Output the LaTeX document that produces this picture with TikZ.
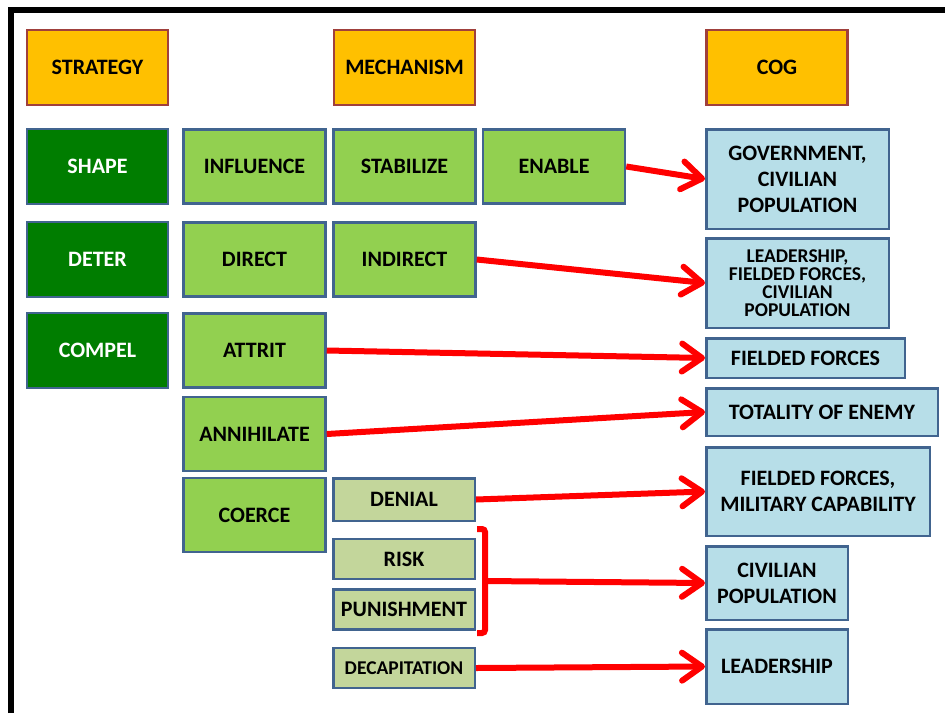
\documentclass[tikz,border=0pt]{standalone}
\usepackage{fontspec}
\setsansfont{Carlito}
\usetikzlibrary{arrows.meta}
\definecolor{headfill}{HTML}{FFC000}
\definecolor{headline}{HTML}{A0403C}
\definecolor{darkgreen}{HTML}{007D00}
\definecolor{litegreen}{HTML}{92D050}
\definecolor{palegreen}{HTML}{C3D69B}
\definecolor{cogblue}{HTML}{B7DEE8}
\definecolor{boxline}{HTML}{41648F}
\begin{document}
\begin{tikzpicture}[x=1pt, y=-1pt, font=\sffamily\bfseries\fontsize{22}{26}\selectfont,
	box/.style={draw=boxline, line width=2.5pt, align=center, inner sep=2pt},
	head/.style={box, draw=headline, fill=headfill, minimum width=141pt, minimum height=75pt},
	strat/.style={box, fill=darkgreen, text=white, minimum width=141pt, minimum height=75pt},
	way/.style={box, fill=litegreen, minimum width=142pt, minimum height=74pt},
	mech/.style={box, fill=palegreen, minimum width=141.5pt, minimum height=40pt},
	cog/.style={box, fill=cogblue},
	small/.style={font=\sffamily\bfseries\fontsize{19.5}{17.8}\selectfont},
	arr/.style={red, line width=6pt, -{Straight Barb[length=20pt, width=28pt, round]}}]
	\useasboundingbox (0,0) rectangle (945,713);
	%frame
	\draw[line width=6pt] (11,713) -- (11,10) -- (945,10);
	%headers
	\node[head] (strategy) at (97.5,67.5) {STRATEGY};
	\node[head] (mechanism) at (404.5,67.5) {MECHANISM};
	\node[head] (cog) at (777,67.5) {COG};
	%strategies
	\foreach \name/\y/\txt in {shape/166.5/SHAPE, deter/259.5/DETER, compel/350.5/COMPEL}
	\node[strat] (\name) at (97.5,\y) {\txt};
	%ways
	\node[way] (influence) at (254.5,166.5) {INFLUENCE};
	\node[way] (stabilize) at (404.5,166.5) {STABILIZE};
	\node[way] (enable) at (554,166.5) {ENABLE};
	\node[way] (direct) at (254.5,259.5) {DIRECT};
	\node[way] (indirect) at (404.5,259.5) {INDIRECT};
	\node[way] (attrit) at (254.5,350.5) {ATTRIT};
	\node[way] (annihilate) at (254.5,434) {ANNIHILATE};
	\node[way] (coerce) at (254.5,515) {COERCE};
	%coercion
	\node[mech, minimum height=42.5pt] (denial) at (404,499.5) {DENIAL};
	\node[mech] (risk) at (404,559) {RISK};
	\node[mech] (punishment) at (404,609.5) {PUNISHMENT};
	\node[mech, small] (decapitation) at (404,668) {DECAPITATION};
	%centres of gravity
	\node[cog, minimum width=182.5pt, minimum height=99.5pt] (gov) at (797.5,179)
	{GOVERNMENT,\\CIVILIAN\\POPULATION};
	\node[cog, small, minimum width=182.5pt, minimum height=89.5pt] (lead) at (797.5,283)
	{LEADERSHIP,\\FIELDED FORCES,\\CIVILIAN\\POPULATION};
	\node[cog, minimum width=198.5pt, minimum height=39.5pt] (fielded) at (805.5,358) {FIELDED FORCES};
	\node[cog, minimum width=231.5pt, minimum height=47.5pt] (enemy) at (822,412) {TOTALITY OF ENEMY};
	\node[cog, minimum width=223.5pt, minimum height=88.5pt] (military) at (818,491.5)
	{FIELDED FORCES,\\MILITARY CAPABILITY};
	\node[cog, minimum width=141.5pt, minimum height=73.5pt] (civilian) at (777,583) {CIVILIAN\\POPULATION};
	\node[cog, minimum width=141.5pt, minimum height=74.5pt] (leadership) at (777,666.5) {LEADERSHIP};
	%bracket
	\coordinate (brk) at (485,581);
	\draw[red, line width=6pt, rounded corners=3pt] (477,529) -- (485,529) -- (485,633) -- (477,633);
	%arrows
	\draw[arr] (enable.east) -- (gov.west);
	\draw[arr] (indirect.east) -- (lead.west);
	\draw[arr] (attrit.east) -- (fielded.west);
	\draw[arr] (annihilate.east) -- (enemy.west);
	\draw[arr] (denial.east) -- (military.west);
	\draw[arr] (brk) -- (civilian.west);
	\draw[arr] (decapitation.east) -- (leadership.west);
\end{tikzpicture}
\end{document}
